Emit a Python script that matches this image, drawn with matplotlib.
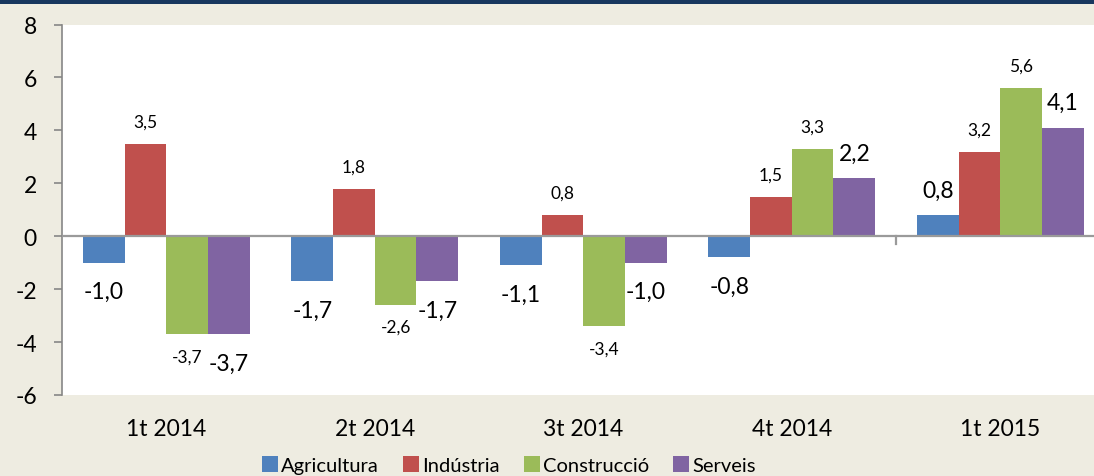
import matplotlib.pyplot as plt
import numpy as np
from matplotlib.patches import Rectangle

#----データ----
categories = ['1t 2014', '2t 2014', '3t 2014', '4t 2014', '1t 2015']
series_names = ['Agricultura', 'Indústria', 'Construcció', 'Serveis']
agricultura = [-1.0, -1.7, -1.1, -0.8, 0.8]
industria = [3.5, 1.8, 0.8, 1.5, 3.2]
construccio = [-3.7, -2.6, -3.4, 3.3, 5.6]
serveis = [-3.7, -1.7, -1.0, 2.2, 4.1]
yticks = [-6, -4, -2, 0, 2, 4, 6, 8]

series = [agricultura, industria, construccio, serveis]
colors_ = ['#4F81BD', '#C0504D', '#9BBB59', '#8064A2']
big_label = [True, False, False, True]  # ラベルの大きさ

plt.rcParams['font.family'] = ['Lato', 'DejaVu Sans']

fig = plt.figure(figsize=(10.94, 4.77), dpi=100)
fig.patch.set_facecolor('#EEECE1')
# 上の濃紺の帯
fig.patches.append(Rectangle((0, 1 - 5 / 477), 1, 5 / 477, transform=fig.transFigure,
                             facecolor='#17375E', edgecolor='none'))

ax = fig.add_axes([62 / 1094, 81 / 477, 1042.5 / 1094, 370.5 / 477])
ax.set_facecolor('white')

x = np.arange(len(categories))
w = 0.2
for k, (vals, name, c) in enumerate(zip(series, series_names, colors_)):
    xs = x + (k - 1.5) * w
    ax.bar(xs, vals, width=w, color=c, label=name, edgecolor='none', zorder=2)
    for xi, v in zip(xs, vals):
        txt = f'{v:.1f}'.replace('.', ',')
        if big_label[k]:
            off = 25 if v >= 0 else -29
            fs = 16.5
        else:
            off = 22 if v >= 0 else -22
            fs = 12.5
        ax.annotate(txt, (xi, v), xytext=(0, off / 1.389), textcoords='offset points',
                    ha='center', va='center', fontsize=fs, color='black')

ax.set_xlim(-0.5, 4.5)
ax.set_ylim(-6, 8)
ax.set_yticks(yticks)
ax.set_yticklabels([str(t) for t in yticks], fontsize=16.5)
ax.tick_params(axis='y', length=6, width=1.2, color='#868686', pad=12)

# カテゴリ軸
ax.set_xticks([])
ax.axhline(0, color='#9A9A9A', lw=1.6, zorder=3)
ax.plot([3.5, 3.5], [0, -0.3], color='#9A9A9A', lw=1.6, zorder=3, clip_on=False)
for xi, cat in zip(x, categories):
    ax.text(xi, -34 / 370.5, cat, transform=ax.get_xaxis_transform(),
            ha='center', va='center', fontsize=16.5)

for s in ['top', 'right', 'bottom']:
    ax.spines[s].set_visible(False)
ax.spines['left'].set_color('#868686')
ax.spines['left'].set_linewidth(1.2)

fig.legend(loc='center', bbox_to_anchor=(509 / 1094, 11 / 477), ncol=4, frameon=False,
           fontsize=14.5, handlelength=0.8, handleheight=0.8, handletextpad=0.15,
           columnspacing=1.2, borderaxespad=0, borderpad=0)

fig.savefig('out.png', dpi=100, facecolor=fig.get_facecolor())
